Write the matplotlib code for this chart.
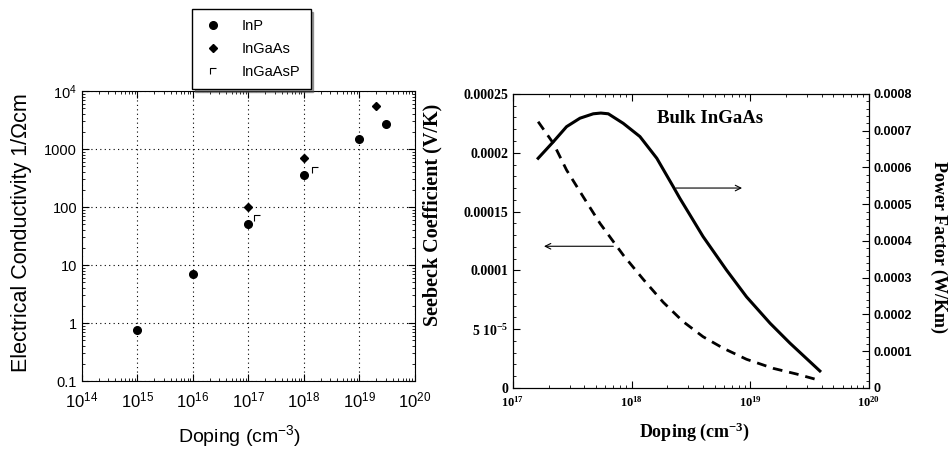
import numpy as np
import matplotlib
matplotlib.use("Agg")
import matplotlib.pyplot as plt
from matplotlib.path import Path
from matplotlib.ticker import AutoMinorLocator, LogLocator, NullFormatter

plt.rcParams['font.family'] = ['Liberation Sans', 'DejaVu Sans']
plt.rcParams['mathtext.default'] = 'regular'

# --- left panel: conductivity vs doping ---
inp_dop = [1e15, 1e16, 1e17, 1e18, 1e19, 3e19]
inp_sig = [0.75, 7, 50, 350, 1500, 2700]
ingaas_dop = [1e17, 1e18, 2e19]
ingaas_sig = [100, 700, 5500]
ingaasp_dop = [1.4e17, 1.6e18]
ingaasp_sig = [65, 440]

# --- right panel: bulk InGaAs ---
pf_dop = [1.63e17, 2.19e17, 2.83e17, 3.67e17, 4.75e17, 5.5e17, 6.36e17, 8.5e17,
          1.175e18, 1.63e18, 2.24e18, 2.55e18, 3.1e18, 4.0e18, 6.3e18, 9.3e18,
          1.47e19, 2.16e19, 3.86e19]
pf_val = [0.000625, 0.00067, 0.000711, 0.000734, 0.000746, 0.000748, 0.000746,
          0.00072, 0.000684, 0.000625, 0.000548, 0.000516, 0.000471, 0.000412,
          0.000321, 0.000248, 0.000176, 0.000122, 0.0000463]
sb_dop = [1.63e17, 2.19e17, 2.83e17, 3.9e17, 5.41e17, 8.5e17, 1.25e18, 1.85e18,
          2.72e18, 4.0e18, 5.92e18, 9.3e18, 1.56e19, 2.45e19, 3.74e19]
sb_val = [0.0002264, 0.000208, 0.0001853, 0.0001627, 0.00014, 0.000113, 0.0000925,
          0.0000728, 0.0000564, 0.0000436, 0.0000338, 0.0000244, 0.0000167,
          0.0000119, 0.0000068]

gamma_marker = Path([(-1, -1), (-1, 1), (1, 1)],
                    [Path.MOVETO, Path.LINETO, Path.LINETO])

fig = plt.figure(figsize=(9.51, 4.51), dpi=100)

ax1 = fig.add_axes([0.0862, 0.1552, 0.350, 0.643])
ax1.plot(inp_dop, inp_sig, 'o', color='black', ms=5.5, label='InP')
ax1.plot(ingaas_dop, ingaas_sig, 'D', color='black', ms=4.5, label='InGaAs')
ax1.plot(ingaasp_dop, ingaasp_sig, ls='none', marker=gamma_marker, color='black',
         ms=5, mew=0.8, fillstyle='none', label='InGaAsP')
ax1.set_xscale('log')
ax1.set_yscale('log')
ax1.set_xlim(1e14, 1e20)
ax1.set_ylim(0.1, 1e4)
ax1.set_xticks([10.0**k for k in range(14, 21)])
ax1.set_xticklabels([f'$10^{{{k}}}$' for k in range(14, 21)], fontsize=12)
ax1.set_yticks([0.1, 1, 10, 100, 1000, 1e4])
ax1.set_yticklabels(['0.1', '1', '10', '100', '1000', '$10^4$'], fontsize=10.5)
ax1.xaxis.set_minor_locator(LogLocator(base=10, subs=np.arange(2, 10), numticks=20))
ax1.yaxis.set_minor_locator(LogLocator(base=10, subs=np.arange(2, 10), numticks=20))
ax1.xaxis.set_minor_formatter(NullFormatter())
ax1.yaxis.set_minor_formatter(NullFormatter())
ax1.tick_params(which='both', direction='in', top=True, right=True)
ax1.tick_params(which='major', length=5)
ax1.tick_params(which='minor', length=2.5)
ax1.tick_params(axis='x', which='major', pad=7)
ax1.grid(True, which='major', ls=(0, (1, 3)), color='black', lw=0.8)
ax1.set_xlabel('Doping (cm$^{-3}$)', fontsize=14)
ax1.xaxis.set_label_coords(0.474, -0.145)
ax1.set_ylabel('Electrical Conductivity 1/\u03a9cm', fontsize=15.5)
ax1.yaxis.set_label_coords(-0.15, 0.51)

leg = fig.legend(loc='upper left', bbox_to_anchor=(0.202, 0.98), shadow=True,
                 fancybox=False, edgecolor='black', framealpha=1, fontsize=10.5,
                 handletextpad=1.2, borderpad=0.7, labelspacing=0.6, handlelength=1.5,
                 borderaxespad=0)

# right panel
serif = ['Liberation Serif', 'DejaVu Serif']
ax2 = fig.add_axes([0.5394, 0.1397, 0.3743, 0.652])
ax3 = ax2.twinx()
ax2.plot(sb_dop, sb_val, color='black', lw=2, dashes=(3.5, 2.5))
ax3.plot(pf_dop, pf_val, color='black', lw=2.2)
ax2.set_xscale('log')
ax2.set_xlim(1e17, 1e20)
ax2.set_ylim(0, 0.00025)
ax3.set_ylim(0, 0.0008)
ax2.set_xticks([1e17, 1e18, 1e19, 1e20])
ax2.set_xticklabels([f'$10^{{{k}}}$' for k in range(17, 21)],
                    fontfamily=serif, fontweight='bold', fontsize=9)
ax2.xaxis.set_minor_locator(LogLocator(base=10, subs=np.arange(2, 10), numticks=20))
ax2.xaxis.set_minor_formatter(NullFormatter())
ax2.set_yticks([0, 0.00005, 0.0001, 0.00015, 0.0002, 0.00025])
ax2.set_yticklabels(['0', '5 $10^{-5}$', '0.0001', '0.00015', '0.0002', '0.00025'],
                    fontfamily=serif, fontweight='bold', fontsize=10)
ax3.set_yticks([0, 0.0001, 0.0002, 0.0003, 0.0004, 0.0005, 0.0006, 0.0007, 0.0008])
ax3.set_yticklabels(['0', '0.0001', '0.0002', '0.0003', '0.0004', '0.0005',
                     '0.0006', '0.0007', '0.0008'],
                    fontfamily=['Liberation Sans'], fontweight='bold', fontsize=9)
ax2.yaxis.set_minor_locator(AutoMinorLocator(5))
ax3.yaxis.set_minor_locator(AutoMinorLocator(5))
ax2.tick_params(which='both', direction='in', top=True)
ax3.tick_params(which='both', direction='in')
ax2.tick_params(axis='x', which='major', pad=5)
for a in (ax2, ax3):
    a.tick_params(which='major', length=5)
    a.tick_params(which='minor', length=2.5)

ax2.annotate('', xy=(9.0e18, 0.00017), xytext=(2.24e18, 0.00017),
             arrowprops=dict(arrowstyle='->', color='black', lw=0.8))
ax2.annotate('', xy=(1.73e17, 0.0001205), xytext=(7.4e17, 0.0001205),
             arrowprops=dict(arrowstyle='->', color='black', lw=0.8))
ax2.text(0.553, 0.918, 'Bulk InGaAs', transform=ax2.transAxes, ha='center', va='center',
         fontfamily=serif, fontweight='bold', fontsize=13.5)

ax2.set_xlabel('Doping (cm$^{-3}$)', fontfamily=serif, fontweight='bold', fontsize=13)
ax2.xaxis.set_label_coords(0.511, -0.11)
ax2.set_ylabel('Seebeck Coefficient (V/K)', fontfamily=serif, fontweight='bold',
               fontsize=14.5)
ax2.yaxis.set_label_coords(-0.197, 0.588)
ax3.set_ylabel('Power Factor (W/Km)', fontfamily=serif, fontweight='bold', fontsize=13,
               rotation=270)
ax3.yaxis.set_label_coords(1.22, 0.48)

fig.savefig('out.png', dpi=100)
